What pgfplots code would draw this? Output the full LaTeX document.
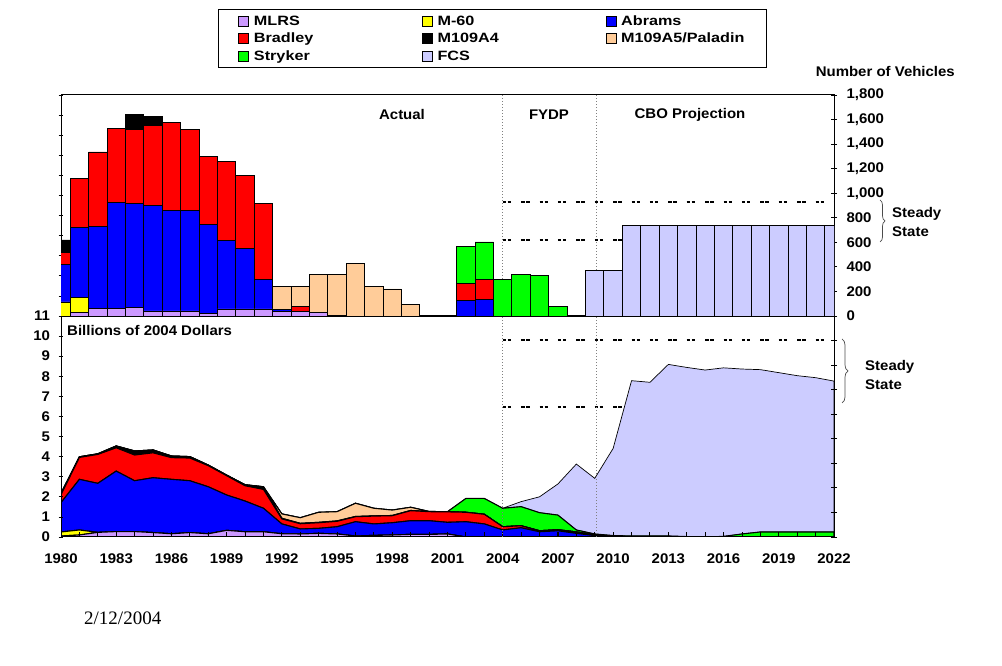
\documentclass[border=0pt]{standalone}
\usepackage{fontspec}
\setmainfont{Liberation Sans}[FakeStretch=1.07]
\newfontfamily\legfont{Liberation Sans}[FakeStretch=1.2]
\newfontfamily\datefont{Liberation Serif}
\usepackage{pgfplots}
\pgfplotsset{compat=1.18}
\usepackage{pgfplotstable}
\usetikzlibrary{decorations.pathreplacing}

\definecolor{mlrs}{HTML}{CC99FF}
\definecolor{msixty}{HTML}{FFFF00}
\definecolor{abrams}{HTML}{0000FF}
\definecolor{bradley}{HTML}{FF0000}
\definecolor{paladin}{HTML}{FFCC99}
\definecolor{stryker}{HTML}{00FF00}
\definecolor{fcs}{HTML}{CCCCFF}

% number of vehicles bought per year
\pgfplotstableread{
year mlrs m60 abrams bradley m109a4 paladin stryker fcs
1980 0 114 307 98 100 0 0 0
1981 27 122 573 399 0 0 0 0
1982 63 0 667 606 0 0 0 0
1983 63 0 863 603 0 0 0 0
1984 73 0 845 602 125 0 0 0
1985 41 0 860 652 73 0 0 0
1986 41 0 817 717 0 0 0 0
1987 41 0 817 665 0 0 0 0
1988 22 0 725 553 0 0 0 0
1989 57 0 559 644 0 0 0 0
1990 57 0 494 595 0 0 0 0
1991 57 0 244 617 0 0 0 0
1992 38 0 17 0 0 189 0 0
1993 38 0 0 41 0 165 0 0
1994 30 0 0 0 0 310 0 0
1995 0 0 0 0 8 332 0 0
1996 0 0 0 0 0 424 0 0
1997 0 0 0 0 0 244 0 0
1998 0 0 0 0 0 220 0 0
1999 0 0 0 0 0 92 0 0
2000 0 0 0 0 0 0 0 0
2001 0 0 0 0 0 0 0 0
2002 0 0 125 141 0 0 302 0
2003 0 0 133 168 0 0 302 0
2004 0 0 0 0 0 0 296 0
2005 0 0 0 0 0 0 340 0
2006 0 0 0 0 0 0 329 0
2007 0 0 0 0 0 0 81 0
2008 0 0 0 0 0 0 0 0
2009 0 0 0 0 0 0 0 367
2010 0 0 0 0 0 0 0 367
2011 0 0 0 0 0 0 0 736
2012 0 0 0 0 0 0 0 736
2013 0 0 0 0 0 0 0 736
2014 0 0 0 0 0 0 0 736
2015 0 0 0 0 0 0 0 736
2016 0 0 0 0 0 0 0 736
2017 0 0 0 0 0 0 0 736
2018 0 0 0 0 0 0 0 736
2019 0 0 0 0 0 0 0 736
2020 0 0 0 0 0 0 0 736
2021 0 0 0 0 0 0 0 736
2022 0 0 0 0 0 0 0 736
}\vehicles

% billions of 2004 dollars per year
\pgfplotstableread{
year mlrs m60 abrams bradley m109a4 paladin stryker fcs
1980 0.05 0.20 1.46 0.39 0.07 0 0 0
1981 0.10 0.25 2.52 1.09 0.03 0 0 0
1982 0.23 0 2.44 1.44 0.03 0 0 0
1983 0.27 0 3.01 1.16 0.09 0 0 0
1984 0.27 0 2.53 1.28 0.20 0 0 0
1985 0.22 0 2.73 1.24 0.14 0 0 0
1986 0.16 0 2.71 1.08 0.08 0 0 0
1987 0.22 0 2.58 1.13 0.07 0 0 0
1988 0.16 0 2.34 1.05 0.03 0 0 0
1989 0.33 0 1.76 0.96 0.03 0 0 0
1990 0.26 0 1.53 0.76 0.05 0 0 0
1991 0.26 0 1.17 0.94 0.13 0 0 0
1992 0.16 0 0.49 0.25 0.03 0.22 0 0
1993 0.15 0 0.25 0.26 0.02 0.28 0 0
1994 0.18 0 0.25 0.28 0.02 0.50 0 0
1995 0.15 0 0.36 0.27 0.02 0.46 0 0
1996 0.05 0 0.71 0.25 0.01 0.66 0 0
1997 0.08 0 0.57 0.39 0.01 0.38 0 0
1998 0.10 0 0.61 0.35 0.01 0.27 0 0
1999 0.13 0 0.68 0.50 0.01 0.16 0 0
2000 0.13 0 0.68 0.45 0 0.01 0 0
2001 0.15 0 0.58 0.52 0 0.01 0 0
2002 0 0 0.76 0.47 0 0 0.69 0
2003 0 0 0.65 0.48 0 0 0.79 0
2004 0 0 0.35 0.16 0 0 0.92 0
2005 0 0 0.46 0.10 0 0 0.95 0.25
2006 0 0 0.26 0.05 0 0 0.90 0.79
2007 0 0 0.31 0.05 0 0 0.73 1.55
2008 0 0 0.18 0.07 0 0 0.10 3.28
2009 0 0 0.07 0.03 0 0 0.05 2.77
2010 0 0 0 0.04 0 0 0.03 4.34
2011 0 0 0 0 0 0 0.05 7.73
2012 0 0 0 0 0 0 0.05 7.65
2013 0 0 0 0 0 0 0.05 8.54
2014 0 0 0 0 0 0 0.02 8.42
2015 0 0 0 0 0 0 0 8.31
2016 0 0 0 0 0 0 0.03 8.39
2017 0 0 0 0 0 0 0.15 8.21
2018 0 0 0 0 0 0 0.25 8.08
2019 0 0 0 0 0 0 0.25 7.93
2020 0 0 0 0 0 0 0.25 7.78
2021 0 0 0 0 0 0 0.25 7.68
2022 0 0 0 0 0 0 0.25 7.51
}\dollars

\tikzset{
  steady/.style={line width=1.6pt, dash pattern=on 3.5pt off 1.5pt on 3.5pt off 9.9pt},
}
\newcommand{\lent}[1]{\makebox[169pt][l]{\hspace{3pt}#1}}

\begin{document}
\begin{tikzpicture}
\useasboundingbox (0pt,0pt) rectangle (1002pt,666pt);

% lower panel: spending, left axis
\begin{axis}[
  at={(61pt,129pt)}, anchor=south west,
  scale only axis, width=773pt, height=442pt,
  xmin=1980, xmax=2022, ymin=0, ymax=22,
  stack plots=y, area style,
  axis line style={line width=1pt},
  xtick={1980,1983,...,2022},
  xticklabels={1980,1983,1986,1989,1992,1995,1998,2001,2004,2007,2010,2013,2016,2019,2022},
  minor xtick={1980,...,2022},
  ytick={0,...,22},
  yticklabels={0,1,2,3,4,5,6,7,8,9,10,11,{},{},{},{},{},{},{},{},{},{},{}},
  xtick pos=bottom, ytick pos=left,
  xtick align=inside, ytick align=center,
  major tick length=5pt, minor tick length=5pt,
  tick style={black, line width=0.8pt},
  tick label style={font=\bfseries\fontsize{14}{16}\selectfont},
  xticklabel style={yshift=-13pt},
  yticklabel style={xshift=-5pt},
]
\addplot[fill=mlrs, draw=black, line width=1.1pt] table[x=year,y=mlrs]{\dollars} \closedcycle;
\addplot[fill=msixty, draw=black, line width=1.1pt] table[x=year,y=m60]{\dollars} \closedcycle;
\addplot[fill=abrams, draw=black, line width=1.1pt] table[x=year,y=abrams]{\dollars} \closedcycle;
\addplot[fill=bradley, draw=black, line width=1.1pt] table[x=year,y=bradley]{\dollars} \closedcycle;
\addplot[fill=black, draw=black, line width=1.1pt] table[x=year,y=m109a4]{\dollars} \closedcycle;
\addplot[fill=paladin, draw=black, line width=1.1pt] table[x=year,y=paladin]{\dollars} \closedcycle;
\addplot[fill=stryker, draw=black, line width=1.1pt] table[x=year,y=stryker]{\dollars} \closedcycle;
\addplot[fill=fcs, draw=black, line width=0.7pt] table[x=year,y=fcs]{\dollars} \closedcycle;
\draw[steady] (axis cs:2004,9.8) -- (axis cs:2022,9.8);
\draw[steady] (axis cs:2004,6.48) -- (axis cs:2022,6.48);
\end{axis}

% upper panel: vehicles, right axis
\begin{axis}[
  at={(61pt,129pt)}, anchor=south west,
  scale only axis, width=773pt, height=442pt,
  xmin=1980, xmax=2022, ymin=-1800, ymax=1800,
  axis x line=none, axis y line*=right,
  axis line style={line width=1pt},
  ybar stacked, bar width=1,
  ytick={-1800,-1600,...,1800},
  yticklabels={{},{},{},{},{},{},{},{},{},0,200,400,600,800,{1,000},{1,200},{1,400},{1,600},{1,800}},
  ytick align=center, major tick length=6pt,
  tick style={black, line width=0.8pt},
  tick label style={font=\bfseries\fontsize{14}{16}\selectfont},
  yticklabel style={xshift=6pt},
  legend columns=3,
  legend cell align=left,
  legend image code/.code={\draw[#1, line width=0.6pt] (0pt,-5pt) rectangle (10pt,5pt);},
  legend style={at={(0.2031,1.1946)}, anchor=north west, draw=black, line width=0.8pt,
    inner xsep=20pt, inner ysep=3pt,
    nodes={inner xsep=2pt, inner ysep=1pt, text height=12pt, text depth=3.5pt},
    font=\legfont\bfseries\fontsize{13.5}{15}\selectfont},
]
\addplot[fill=mlrs, draw=black, line width=0.9pt] table[x=year,y=mlrs]{\vehicles};
\addlegendentry{\lent{MLRS}}
\addplot[fill=msixty, draw=black, line width=0.9pt] table[x=year,y=m60]{\vehicles};
\addlegendentry{\lent{M-60}}
\addplot[fill=abrams, draw=black, line width=0.9pt] table[x=year,y=abrams]{\vehicles};
\addlegendentry{\hspace{3pt}Abrams}
\addplot[fill=bradley, draw=black, line width=0.9pt] table[x=year,y=bradley]{\vehicles};
\addlegendentry{\lent{Bradley}}
\addplot[fill=black, draw=black, line width=0.9pt] table[x=year,y=m109a4]{\vehicles};
\addlegendentry{\lent{M109A4}}
\addplot[fill=paladin, draw=black, line width=0.9pt] table[x=year,y=paladin]{\vehicles};
\addlegendentry{\hspace{3pt}M109A5/Paladin}
\addplot[fill=stryker, draw=black, line width=0.9pt] table[x=year,y=stryker]{\vehicles};
\addlegendentry{\lent{Stryker}}
\addplot[fill=fcs, draw=black, line width=0.9pt] table[x=year,y=fcs]{\vehicles};
\addlegendentry{\lent{FCS}}
\draw[line width=1.2pt] (axis cs:1980,0) -- (axis cs:2022,0);
\draw[steady] (axis cs:2004,930) -- (axis cs:2022,930);
\draw[steady] (axis cs:2004,620) -- (axis cs:2022,620);
\draw[gray, dotted, line width=1pt] (axis cs:2004,-1800) -- (axis cs:2004,1800);
\draw[gray, dotted, line width=1pt] (axis cs:2009.1,-1800) -- (axis cs:2009.1,1800);
\end{axis}

% annotations (positions in pixels of the 1002x666 frame)
\begin{scope}[every node/.style={font=\bfseries\fontsize{14}{19.5}\selectfont, inner sep=0pt}]
\node at (402pt,551pt) {Actual};
\node at (549pt,551pt) {FYDP};
\node at (690pt,551pt) {CBO Projection};
\node[anchor=east] at (955pt,594pt) {Number of Vehicles};
\node[anchor=west] at (67pt,335pt) {Billions of 2004 Dollars};
\node[anchor=west, align=left] at (892pt,444pt) {Steady\\State};
\node[anchor=west, align=left] at (865pt,291pt) {Steady\\State};
\end{scope}
\draw[decorate, decoration={brace, amplitude=5pt}, line width=0.7pt, black!70]
  (880pt,466pt) -- (880pt,424pt);
\draw[decorate, decoration={brace, amplitude=6pt}, line width=0.7pt, black!70]
  (842pt,327pt) -- (842pt,263pt);
\node[anchor=west, inner sep=0pt, font=\datefont\fontsize{19}{21}\selectfont] at (84pt,48pt) {2/12/2004};
\end{tikzpicture}
\end{document}
